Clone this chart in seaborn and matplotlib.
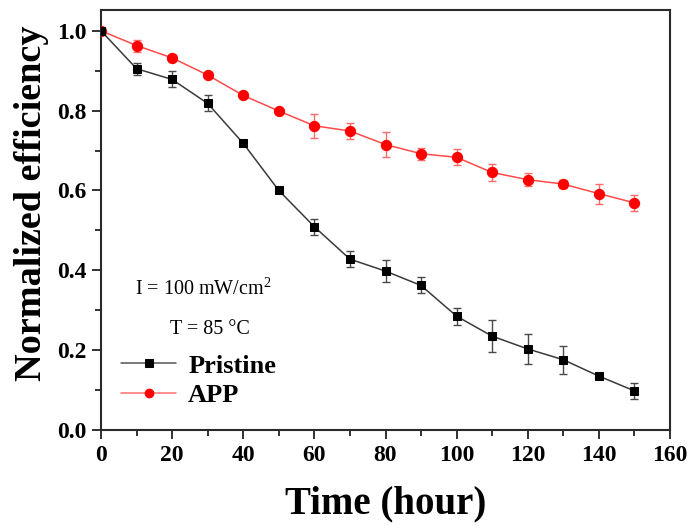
import numpy as np
import pandas as pd
import matplotlib
matplotlib.use("Agg")
import matplotlib.pyplot as plt
import seaborn as sns
from matplotlib.ticker import MultipleLocator, FormatStrFormatter

# data
time_h = [0, 10, 20, 30, 40, 50, 60, 70, 80, 90, 100, 110, 120, 130, 140, 150]
pristine = [1.0, 0.905, 0.878, 0.818, 0.718, 0.600, 0.509, 0.428, 0.398, 0.362,
            0.285, 0.235, 0.203, 0.176, 0.135, 0.098]
pristine_err = [0.0, 0.015, 0.020, 0.020, 0.005, 0.004, 0.020, 0.020, 0.027, 0.020,
                0.021, 0.040, 0.038, 0.035, 0.005, 0.020]
app = [1.0, 0.963, 0.932, 0.889, 0.838, 0.799, 0.762, 0.749, 0.715, 0.692,
       0.683, 0.645, 0.627, 0.616, 0.592, 0.569]
app_err = [0.0, 0.015, 0.008, 0.006, 0.005, 0.005, 0.030, 0.020, 0.032, 0.015,
           0.020, 0.021, 0.017, 0.009, 0.025, 0.020]
labels = ["Pristine", "APP"]
annot_lines = ["I = 100 mW/cm$^2$", "T = 85 °C"]

sns.set_theme(style="ticks")
plt.rcParams['font.family'] = ['Liberation Serif', 'DejaVu Serif']
plt.rcParams['mathtext.fontset'] = 'custom'
plt.rcParams['mathtext.rm'] = 'Liberation Serif'
plt.rcParams['text.color'] = 'black'
plt.rcParams['axes.labelcolor'] = 'black'
plt.rcParams['xtick.color'] = '#222222'
plt.rcParams['ytick.color'] = '#222222'
plt.rcParams['xtick.labelcolor'] = 'black'
plt.rcParams['ytick.labelcolor'] = 'black'

fig = plt.figure(figsize=(6.92, 5.29), dpi=100)
ax = fig.add_axes([101 / 692, 1 - 430 / 529, 569 / 692, 420 / 529])

df = pd.DataFrame({
    "t": time_h * 2,
    "v": pristine + app,
    "s": [labels[0]] * len(time_h) + [labels[1]] * len(time_h),
})

line_cols = {labels[0]: "#3a3a3a", labels[1]: "#ff4a4a"}
mk_cols = {labels[0]: "black", labels[1]: "#ff0000"}
err_cols = {labels[0]: "#4a4a4a", labels[1]: "#ff6a6a"}
markers = {labels[0]: "s", labels[1]: "o"}
msizes = {labels[0]: 6.4, labels[1]: 7.4}
errs = {labels[0]: pristine_err, labels[1]: app_err}
vals = {labels[0]: pristine, labels[1]: app}

for lab in labels:
    ax.errorbar(time_h, vals[lab], yerr=errs[lab], fmt="none",
                ecolor=err_cols[lab], elinewidth=1.0, capsize=3.2, capthick=1.0, zorder=2)

for lab in [labels[1], labels[0]]:
    sns.lineplot(data=df[df.s == lab], x="t", y="v", ax=ax, color=line_cols[lab],
                 lw=1.1, marker=markers[lab], markersize=msizes[lab],
                 markerfacecolor=mk_cols[lab], markeredgecolor=mk_cols[lab],
                 label=lab, zorder=3)

ax.set_xlim(0, 160)
ax.set_ylim(0, 1.052)
ax.xaxis.set_major_locator(MultipleLocator(20))
ax.xaxis.set_minor_locator(MultipleLocator(10))
ax.yaxis.set_major_locator(MultipleLocator(0.2))
ax.yaxis.set_minor_locator(MultipleLocator(0.1))
ax.yaxis.set_major_formatter(FormatStrFormatter('%.1f'))
ax.tick_params(which="major", direction="out", length=6.5, width=1.3,
               labelsize=17, pad=4)
ax.tick_params(which="minor", direction="out", length=4, width=1.3)
for lbl in ax.get_xticklabels() + ax.get_yticklabels():
    lbl.set_fontweight("bold")
for sp in ax.spines.values():
    sp.set_visible(True)
    sp.set_linewidth(1.5)
    sp.set_color("#2a2a2a")

ax.set_xlabel("Time (hour)", fontsize=28, fontweight="bold", labelpad=14)
ax.set_ylabel("Normalized efficiency", fontsize=27.5, fontweight="bold")
ax.yaxis.set_label_coords(-0.092, (430 - 203) / 420)

handles, labs = ax.get_legend_handles_labels()
order = [labs.index(labels[0]), labs.index(labels[1])]
leg = ax.legend([handles[i] for i in order], [labs[i] for i in order],
                loc="center left", bbox_to_anchor=(0.035, (430 - 380.5) / 420),
                frameon=False, prop={"weight": "bold", "size": 19},
                handlelength=2.1, handletextpad=0.45, labelspacing=0.22,
                borderaxespad=0.0, borderpad=0.0, markerscale=0.85)
leg.get_lines()[1].set_color("#ff7070")
leg.get_lines()[0].set_color("#555555")

ax.text((135 - 101) / 569, (430 - 289) / 420, annot_lines[0], transform=ax.transAxes,
        fontsize=14.5, ha="left", va="center")
ax.text((210 - 101) / 569, (430 - 330) / 420, annot_lines[1], transform=ax.transAxes,
        fontsize=14.5, ha="center", va="center")

fig.savefig("out.png", dpi=100, facecolor="white")
